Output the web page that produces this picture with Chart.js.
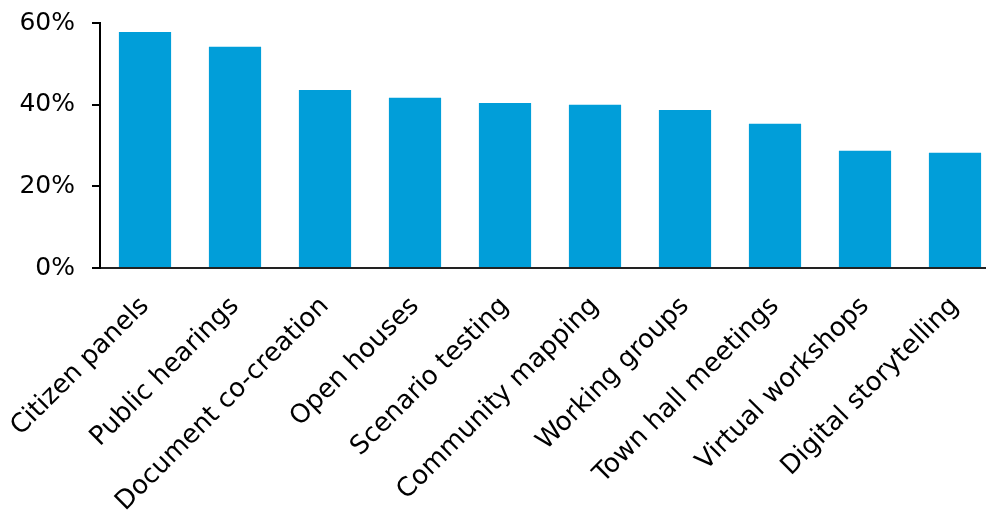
<!DOCTYPE html>
<html>
<head>
<meta charset="utf-8">
<script src="https://cdn.jsdelivr.net/npm/chart.js@4"></script>
<style>
  html, body { margin: 0; padding: 0; background: #fff; overflow: hidden; }
  #wrap { width: 1000px; height: 512px; }
</style>
</head>
<body>
<div id="wrap"><canvas id="c" width="1000" height="512"></canvas></div>
<script>
const categories = [
  'Citizen panels', 'Public hearings', 'Document co-creation', 'Open houses',
  'Scenario testing', 'Community mapping', 'Working groups', 'Town hall meetings',
  'Virtual workshops', 'Digital storytelling'
];
const shares = [57.8, 54.2, 43.6, 41.7, 40.4, 40.0, 38.7, 35.3, 28.7, 28.2];
const yTicks = [0, 20, 40, 60];

const family = 'DejaVu Sans, Verdana, sans-serif';

new Chart(document.getElementById('c'), {
  type: 'bar',
  data: {
    labels: categories,
    datasets: [{
      data: shares,
      backgroundColor: '#019ED9',
      borderWidth: 0,
      categoryPercentage: 1.0,
      barPercentage: 0.58
    }]
  },
  options: {
    responsive: false,
    animation: false,
    layout: { padding: { top: 23, right: 0, left: 0, bottom: 0 } },
    plugins: { legend: { display: false }, tooltip: { enabled: false } },
    scales: {
      x: {
        grid: { display: false },
        border: { display: true, color: '#222', width: 2 },
        ticks: {
          color: '#000', font: { family, size: 26 }, maxRotation: 45, minRotation: 45,
          autoSkip: false, padding: 15
        },
        afterFit(scale) {
          scale.height = 244;
          scale.paddingLeft = 0;
          scale.paddingRight = 0;
        }
      },
      y: {
        min: 0, max: 60,
        afterBuildTicks(scale) { scale.ticks = yTicks.map(v => ({ value: v })); },
        grid: { drawOnChartArea: false, tickLength: 8, color: '#000', lineWidth: 2 },
        border: { display: true, color: '#000', width: 2 },
        ticks: { color: '#000', font: { family, size: 25 }, padding: 17, callback: v => v + '%' },
        afterFit(scale) {
          scale.width = 100;
          scale.paddingTop = 0;
          scale.paddingBottom = 0;
        }
      }
    }
  }
});
</script>
</body>
</html>
